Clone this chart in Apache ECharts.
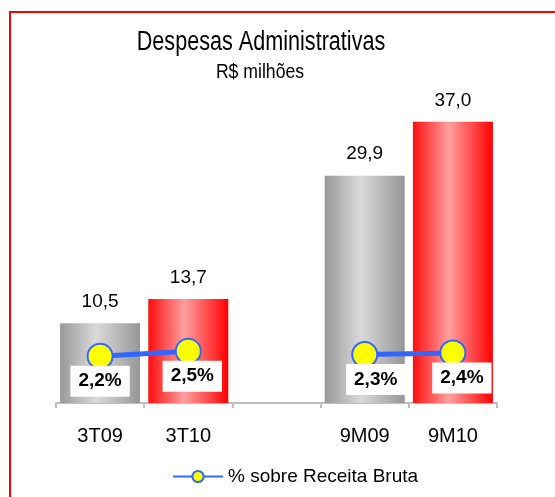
<!DOCTYPE html>
<html>
<head>
<meta charset="utf-8">
<script src="https://cdn.jsdelivr.net/npm/echarts@6/dist/echarts.min.js"></script>
<style>
  html, body { margin: 0; padding: 0; background: #fff; }
  #chart { width: 555px; height: 497px; }
</style>
</head>
<body>
<div id="chart"></div>
<script>
const categories = ['3T09', '3T10', '', '9M09', '9M10']
const despesas = [10.5, 13.7, null, 29.9, 37.0]
const pctReceita = [2.2, 2.5, null, 2.3, 2.4]
// label box nudges, px
const pctShift = [0, 4, 0, 11, 9]

const fmt = (v, d) => v.toFixed(d).replace('.', ',')

const grayFill = new echarts.graphic.LinearGradient(0, 0, 1, 0, [
  { offset: 0, color: '#999999' },
  { offset: 0.45, color: '#dadada' },
  { offset: 1, color: '#969696' },
])
const redFill = new echarts.graphic.LinearGradient(0, 0, 1, 0, [
  { offset: 0, color: '#ff0d0d' },
  { offset: 0.45, color: '#ffa0a0' },
  { offset: 1, color: '#ff0000' },
])
const fills = [grayFill, redFill, null, grayFill, redFill]

const font = 'Liberation Sans, Arial, sans-serif'

const chart = echarts.init(document.getElementById('chart'), null, { renderer: 'canvas' })
chart.setOption({
  backgroundColor: '#fff',
  animation: false,
  textStyle: { fontFamily: font, color: '#000' },
  graphic: [
    {
      type: 'rect',
      shape: { x: 10, y: 12, width: 700, height: 700 },
      style: { fill: null, stroke: '#ff0000', lineWidth: 2 },
      silent: true,
    },
    // narrow title, squeezed like the original
    {
      type: 'text',
      x: 261,
      y: 43,
      scaleX: 0.8,
      style: {
        text: 'Despesas Administrativas',
        font: '27px ' + font,
        fill: '#000',
        textAlign: 'center',
        textVerticalAlign: 'middle',
      },
    },
    {
      type: 'text',
      x: 260,
      y: 72,
      scaleX: 0.84,
      style: {
        text: 'R$ milhões',
        font: '21px ' + font,
        fill: '#000',
        textAlign: 'center',
        textVerticalAlign: 'middle',
      },
    },
  ],
  legend: {
    left: 167,
    top: 462,
    itemWidth: 50,
    itemHeight: 14,
    itemGap: 6,
    data: ['% sobre Receita Bruta'],
    textStyle: { fontSize: 19, color: '#000', fontFamily: font },
    lineStyle: { width: 2 },
  },
  grid: { left: 56, right: 58, top: 99, bottom: 94 },
  xAxis: {
    type: 'category',
    data: categories,
    axisLine: { lineStyle: { color: '#bfbfbf', width: 2 } },
    axisTick: { show: true, length: 5, lineStyle: { color: '#bfbfbf', width: 2 } },
    axisLabel: { color: '#000', fontSize: 20, margin: 23 },
  },
  yAxis: [
    { type: 'value', min: 0, max: 40, show: false },
    { type: 'value', min: -0.6, max: 17.6, show: false },
  ],
  series: [
    {
      name: 'Despesas',
      type: 'bar',
      barWidth: 80,
      data: despesas.map((v, i) => ({
        value: v,
        itemStyle: { color: fills[i] },
      })),
      label: {
        show: true,
        position: 'top',
        distance: 12,
        fontSize: 19,
        color: '#000',
        formatter: (p) => fmt(p.value, 1),
      },
    },
    {
      name: '% sobre Receita Bruta',
      type: 'line',
      yAxisIndex: 1,
      connectNulls: false,
      symbol: 'circle',
      symbolSize: 25,
      lineStyle: { color: '#3366ff', width: 5 },
      itemStyle: { color: '#ffff00', borderColor: '#3366ff', borderWidth: 2 },
      data: pctReceita.map((v, i) => ({
        value: v,
        label: { offset: [pctShift[i], 25] },
      })),
      label: {
        show: true,
        position: 'inside',
        fontSize: 19,
        fontWeight: 'bold',
        color: '#000',
        backgroundColor: '#fff',
        padding: [7, 8, 5, 8],
        formatter: (p) => fmt(p.value, 1) + '%',
      },
      z: 5,
    },
  ],
})
</script>
</body>
</html>
